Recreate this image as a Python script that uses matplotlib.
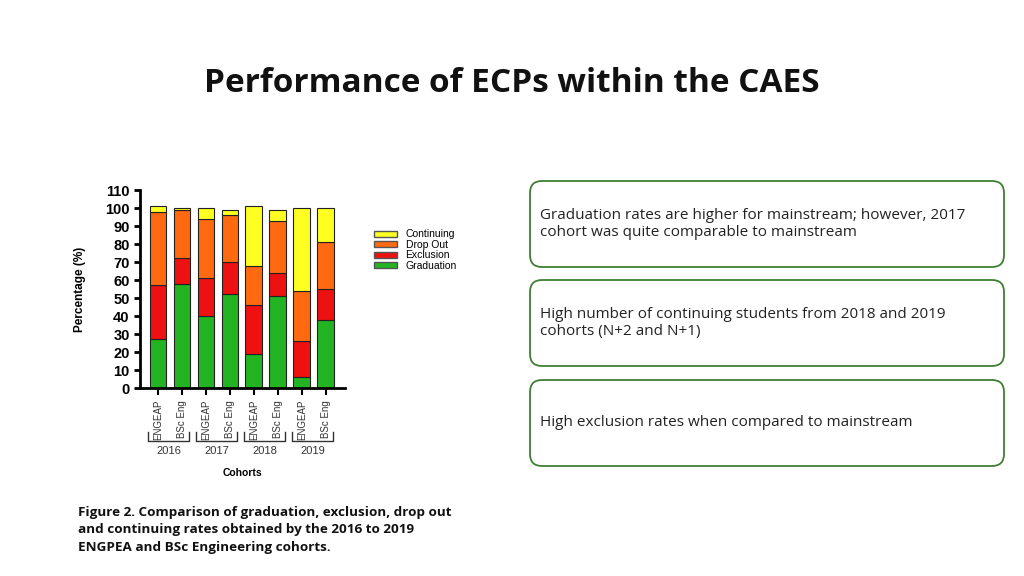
import matplotlib.pyplot as plt
from matplotlib.patches import FancyBboxPatch, Patch
import numpy as np

# values (percent)
bar_labels = ["ENGEAP", "BSc Eng"] * 4
years = ["2016", "2017", "2018", "2019"]
graduation = [27, 58, 40, 52, 19, 51, 6, 38]
exclusion = [30, 14, 21, 18, 27, 13, 20, 17]
drop_out = [41, 27, 33, 26, 22, 29, 28, 26]
continuing = [3, 1, 6, 3, 33, 6, 46, 19]

series = [
    ("Graduation", graduation, "#22b422"),
    ("Exclusion", exclusion, "#ee1111"),
    ("Drop Out", drop_out, "#ff6a10"),
    ("Continuing", continuing, "#ffff22"),
]

notes = [
    "Graduation rates are higher for mainstream; however, 2017\ncohort was quite comparable to mainstream",
    "High number of continuing students from 2018 and 2019\ncohorts (N+2 and N+1)",
    "High exclusion rates when compared to mainstream",
]
caption = ("Figure 2. Comparison of graduation, exclusion, drop out\n"
           "and continuing rates obtained by the 2016 to 2019\n"
           "ENGPEA and BSc Engineering cohorts.")

fig = plt.figure(figsize=(10.24, 5.76), dpi=100)

# page layer in pixel coordinates
page = fig.add_axes([0, 0, 1, 1])
page.set_xlim(0, 1024)
page.set_ylim(576, 0)
page.axis("off")

page.text(512, 84, "Performance of ECPs within the CAES", ha="center", va="center",
          fontsize=24, fontweight="bold", family="Open Sans", color="#111111")

box_tops = [181, 280, 380]
for top, note in zip(box_tops, notes):
    page.add_patch(FancyBboxPatch((530, top), 474, 86,
                                  boxstyle="round,pad=0,rounding_size=12",
                                  fc="white", ec="#3f7f34", lw=1.3))
    page.text(540, top + 43, note, ha="left", va="center", fontsize=11,
              family="Open Sans", color="#222222", linespacing=1.25)

page.text(78, 530, caption, ha="left", va="center", fontsize=9.7,
          fontweight="bold", family="Open Sans", color="#111111", linespacing=1.45)

# chart
ax = fig.add_axes([140 / 1024, 1 - 388 / 576, 205 / 1024, 198 / 576])
x = np.arange(len(bar_labels))
bottom = np.zeros(len(bar_labels))
for name, vals, col in series:
    ax.bar(x, vals, 0.7, bottom=bottom, color=col, edgecolor="#222222",
           linewidth=0.8, label=name)
    bottom += np.array(vals)

ax.set_xlim(-0.75, 7.8)
ax.set_ylim(0, 110)
ax.set_yticks(np.arange(0, 111, 10))
for s in ["top", "right"]:
    ax.spines[s].set_visible(False)
for s in ["left", "bottom"]:
    ax.spines[s].set_linewidth(2)
ax.tick_params(axis="y", width=2, length=4, labelsize=10.5)
for lab in ax.get_yticklabels():
    lab.set_fontweight("bold")
    lab.set_family("Liberation Sans")
ax.set_xticks(x)
ax.set_xticklabels(bar_labels, rotation=90, fontsize=7, family="Liberation Sans",
                   color="#333333")
ax.tick_params(axis="x", width=1.5, length=5)
ax.set_ylabel("Percentage (%)", fontsize=8.5, fontweight="bold",
              family="Liberation Sans", labelpad=14)

# year brackets below the tick labels
tr = ax.get_xaxis_transform()
for i, yr in enumerate(years):
    x0, x1 = 2 * i - 0.4, 2 * i + 1 + 0.3
    ax.plot([x0, x0, x1, x1], [-0.222, -0.27, -0.27, -0.222], transform=tr,
            color="#333333", lw=1, clip_on=False)
    ax.text((x0 + x1) / 2, -0.318, yr, transform=tr, ha="center", va="center",
            fontsize=8, family="Liberation Sans", color="#333333")
ax.text(0.5, -0.43, "Cohorts", transform=ax.transAxes, ha="center", va="center",
        fontsize=7.5, fontweight="bold", family="Liberation Sans")

handles = [Patch(facecolor=c, edgecolor="#555555", label=n) for n, _, c in series[::-1]]
fig.legend(handles=handles, loc="upper left", bbox_to_anchor=(365 / 1024, 1 - 220 / 576),
           frameon=False, handlelength=2.2, handleheight=0.5,
           labelspacing=0.05, handletextpad=0.8,
           prop={"family": "Liberation Sans", "size": 7.5})

fig.savefig("out.png", dpi=100)
